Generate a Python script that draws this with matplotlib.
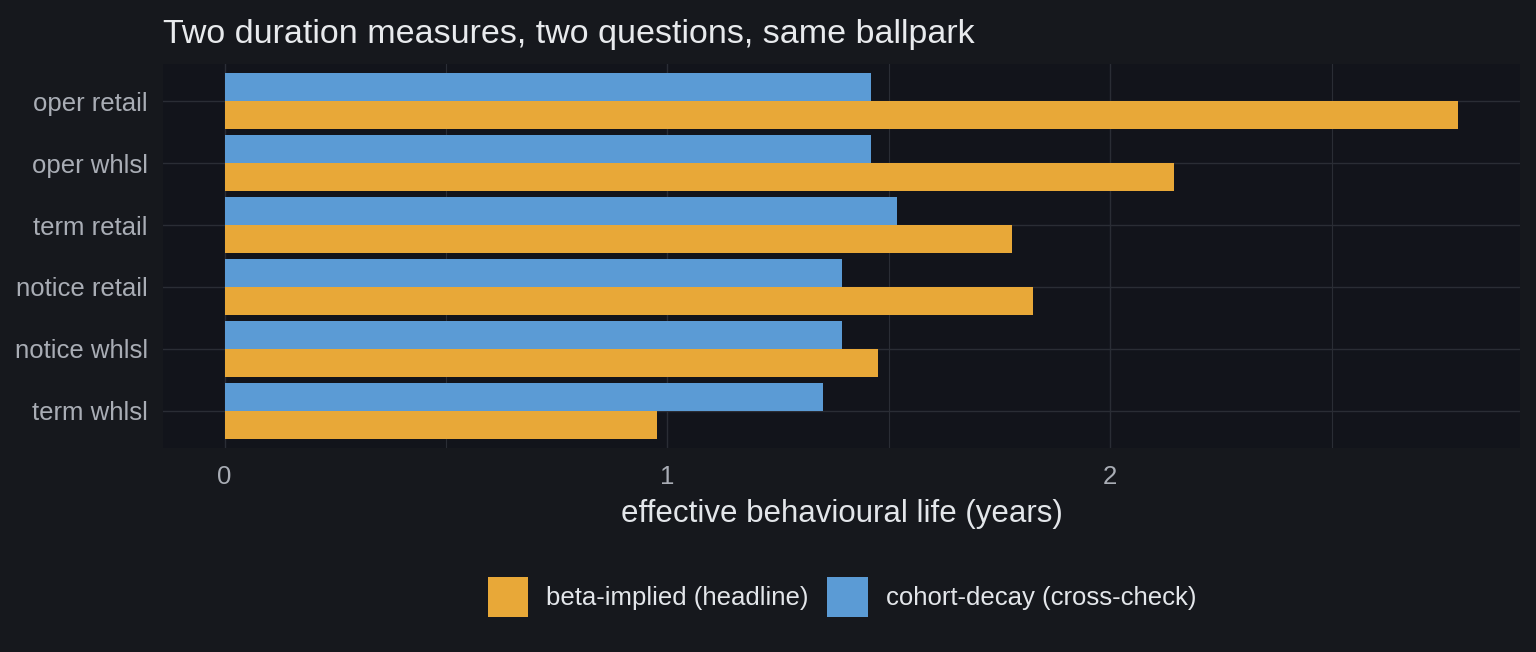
import matplotlib
matplotlib.use("Agg")
import matplotlib.pyplot as plt
from matplotlib.patches import Patch

plt.rcParams['font.family'] = ['Liberation Sans', 'DejaVu Sans']

categories = ["oper retail", "oper whlsl", "term retail", "notice retail", "notice whlsl", "term whlsl"]
beta_implied = [2.786, 2.144, 1.777, 1.826, 1.476, 0.977]
cohort_decay = [1.460, 1.460, 1.519, 1.393, 1.393, 1.352]
series_labels = ["beta-implied (headline)", "cohort-decay (cross-check)"]
x_ticks = [0, 1, 2]

BG = "#16181d"
PANEL = "#12141b"
GRID = "#2a2d35"
ORANGE = "#e8a838"
BLUE = "#5b9bd5"

fig = plt.figure(figsize=(15.36, 6.52), dpi=100, facecolor=BG)
ax = fig.add_axes([163/1536, 1-448/652, (1520-163)/1536, (448-64)/652])
ax.set_facecolor(PANEL)

pos = list(range(len(categories)))
h = 0.45
ax.barh([p - h/2 for p in pos], cohort_decay, height=h, color=BLUE, zorder=3)
ax.barh([p + h/2 for p in pos], beta_implied, height=h, color=ORANGE, zorder=3)

xmax = max(max(beta_implied), max(cohort_decay))
ax.set_xlim(-0.05*xmax, 1.05*xmax)
ax.set_ylim(len(categories)-1+0.6, -0.6)
ax.set_yticks(pos)
ax.set_yticklabels(categories)
ax.set_xticks(x_ticks)
ax.set_xticks([0.5, 1.5, 2.5], minor=True)
ax.tick_params(axis='y', length=0, pad=11, labelsize=18.5, colors="#a9adb5")
ax.tick_params(axis='x', which='both', length=0, pad=12.5, labelsize=18.5, colors="#a9adb5")
ax.grid(True, which='major', color=GRID, linewidth=1.0, zorder=0)
ax.grid(True, which='minor', axis='x', color=GRID, linewidth=0.8, zorder=0)
for s in ax.spines.values():
    s.set_visible(False)

ax.set_xlabel("effective behavioural life (years)", fontsize=22.5, color="#e3e6ea", labelpad=7)

fig.text(163/1536, 1-34/652, "Two duration measures, two questions, same ballpark",
         fontsize=24.5, color="#e8eaed", ha='left', va='center')

handles = [Patch(facecolor=ORANGE, edgecolor='none'), Patch(facecolor=BLUE, edgecolor='none')]
leg = fig.legend(handles, series_labels, loc='center', bbox_to_anchor=(842/1536, 1-597/652),
                 ncol=2, frameon=False, fontsize=18.5, handlelength=1.58, handleheight=2.0,
                 handletextpad=0.69, columnspacing=0.73, labelcolor="#e3e6ea")

fig.savefig("out.png", dpi=100, facecolor=BG)
